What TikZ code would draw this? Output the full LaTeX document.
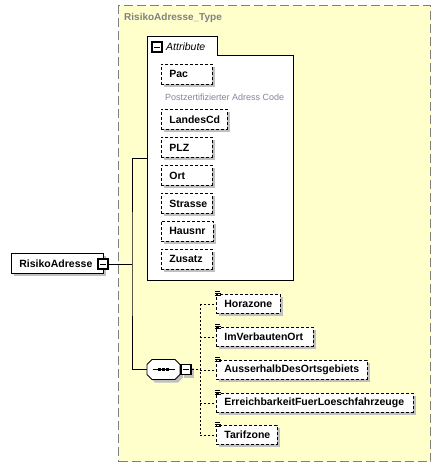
\documentclass[tikz,border=0pt]{standalone}
\usepackage{fontspec}
\setmainfont{Liberation Sans}
\usetikzlibrary{shadows}
\hyphenpenalty=10000
\definecolor{typefill}{HTML}{FFFFCC}
\definecolor{typeborder}{HTML}{808080}
\definecolor{shadowgray}{HTML}{C0C0C0}
\definecolor{annot}{HTML}{8585A0}
\tikzset{
  sh/.style={drop shadow={shadow xshift=3pt,shadow yshift=-3pt,fill=shadowgray,opacity=1}},
  elfont/.style={font=\fontsize{10.5}{12}\selectfont\bfseries},
  namebox/.style={draw,fill=white,sh,elfont,anchor=north west,minimum height=#1,
    inner xsep=8pt,inner ysep=0pt,align=left,line width=0.8pt},
  attrbox/.style={namebox=20,dash pattern=on 3pt off 2pt},
  elembox/.style={namebox=19,dash pattern=on 3pt off 2pt},
  minusbox/.style={draw,fill=white,minimum size=10,inner sep=0pt,line width=1.2pt,
    path picture={\draw[line width=1pt] ([xshift=2pt]path picture bounding box.west) -- ([xshift=-2pt]path picture bounding box.east);}},
  conn/.style={line width=0.9pt},
  dconn/.style={line width=0.8pt,dash pattern=on 2pt off 2pt},
  elicon/.style={line width=0.7pt},
  octpath/.style={line width=0.9pt},
}
\begin{document}
\begin{tikzpicture}[x=1pt,y=-1pt]
\useasboundingbox (0,0) rectangle (441,467);
% complex type container
\node[draw=typeborder,fill=typefill,line width=1pt,dash pattern=on 9pt off 4pt,
  anchor=north west,minimum width=312,minimum height=456,inner sep=0pt] (type) at (118,5) {};
\node[anchor=west,text=typeborder,font=\fontsize{10}{12}\selectfont\bfseries,inner sep=0pt] (typename) at (124,18) {RisikoAdresse\_Type};
% attribute group box
\draw[fill=white,line width=0.9pt] (147,36) -- (217,36) -- (217,55) -- (293,55) -- (293,280) -- (147,280) -- cycle;
\coordinate (attrL) at (147,158);
\node[minusbox] (attrmin) at (157,47) {};
\node[anchor=west,inner sep=0pt,font=\fontsize{10.5}{12}\selectfont\itshape] (attrlabel) at (166,46.5) {Attribute};
% attributes
\node[attrbox,text width=35pt] (pac) at (161,64) {Pac};
\node[anchor=west,inner sep=0pt,text=annot,font=\fontsize{9}{11}\selectfont] (pacdoc) at (165,97) {Postzertifizierter Adress Code};
\node[attrbox,text width=50pt] (landescd) at (161,109) {LandesCd};
\node[attrbox,text width=35pt] (plz) at (161,137) {PLZ};
\node[attrbox,text width=35pt] (ort) at (161,165) {Ort};
\node[attrbox,text width=35pt] (strasse) at (161,193) {Strasse};
\node[attrbox,text width=36pt] (hausnr) at (161,221) {Hausnr};
\node[attrbox,text width=35pt] (zusatz) at (161,249) {Zusatz};
% root element
\node[namebox=20,text width=76pt] (root) at (11,253) {RisikoAdresse};
\node[minusbox] (rootmin) at (103,264) {};
% sequence compositor (octagon)
\node[minimum width=33,minimum height=20,inner sep=0pt] (seq) at (163.5,369.5) {};
\begin{scope}[shift={(seq.center)}]
  \fill[shadowgray] (-8.5,-7) -- (14.5,-7) -- (19.5,-2) -- (19.5,8) -- (14.5,13) -- (-8.5,13) -- (-13.5,8) -- (-13.5,-2) -- cycle;
  \draw[octpath,fill=white] (-11.5,-10) -- (11.5,-10) -- (16.5,-5) -- (16.5,5) -- (11.5,10) -- (-11.5,10) -- (-16.5,5) -- (-16.5,-5) -- cycle;
  \draw[octpath] (-11,0) -- (11,0);
  \foreach \dx in {-5.5,-1.5,2.5} \fill (\dx,-1.5) rectangle ++(3,3);
\end{scope}
\node[minusbox,sh] (seqmin) at (186,369.5) {};
% child elements
\node[elembox,text width=48pt] (horazone) at (216,294) {Horazone};
\node[elembox,text width=81pt] (imverbautenort) at (216,327) {ImVerbautenOrt};
\node[elembox,text width=135pt] (ausserhalb) at (216,360) {AusserhalbDesOrtsgebiets};
\node[elembox,text width=181pt] (erreichbarkeit) at (216,393) {ErreichbarkeitFuerLoeschfahrzeuge};
\node[elembox,text width=45pt] (tarifzone) at (216,425) {Tarifzone};
\foreach \e in {horazone,imverbautenort,ausserhalb,erreichbarkeit,tarifzone}{
  \draw[elicon] ([xshift=-1pt,yshift=2.2pt]\e.north west) -- ++(5,0);
  \draw[elicon] ([xshift=-1pt,yshift=0.6pt]\e.north west) -- ++(6,0);
  \draw[elicon] ([xshift=-1pt,yshift=-1pt]\e.north west) -- ++(6,0);
}
% connectors
\coordinate (j1) at (132,264);
\coordinate (j2) at (200,369.5);
\draw[conn] (rootmin.east) -- (j1);
\draw[conn] (attrL) -| (j1) |- (seq.west);
\draw[dconn] (seqmin.east) -- (j2);
\draw[dconn] (j2 |- horazone.west) -- (j2 |- tarifzone.west);
\foreach \e in {horazone,imverbautenort,ausserhalb,erreichbarkeit,tarifzone}{
  \draw[dconn] (j2 |- \e.west) -- (\e.west);
}
\end{tikzpicture}
\end{document}
